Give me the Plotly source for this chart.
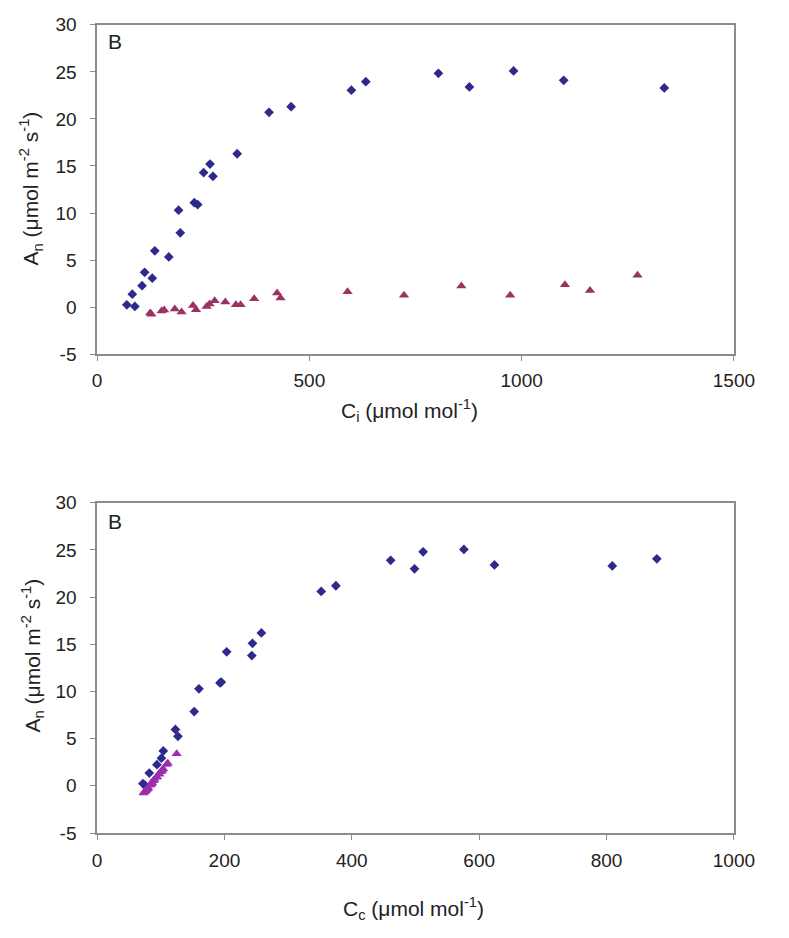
import plotly.graph_objects as go

# ---- Top panel: An vs Ci ----
ci_diamond = [70, 89, 83, 106, 112, 130, 136, 169, 192, 196, 229, 237, 251, 266, 273,
              330, 405, 457, 599, 633, 804, 877, 981, 1099, 1336]
an_diamond_top = [0.24, 0.07, 1.38, 2.28, 3.7, 3.08, 5.99, 5.33, 10.3, 7.9, 11.1, 10.9, 14.3,
                  15.2, 13.9, 16.3, 20.7, 21.3, 23.05, 23.96, 24.85, 23.4, 25.1, 24.1, 23.3]

ci_triangle = [125, 128, 152, 158, 183, 199, 226, 233, 258, 265, 277, 302, 327, 338, 370,
               424, 432, 590, 723, 858, 973, 1102, 1161, 1273]
an_triangle_top = [-0.62, -0.75, -0.42, -0.31, -0.21, -0.52, 0.17, -0.28, 0.07, 0.34, 0.69,
                   0.55, 0.24, 0.24, 0.9, 1.49, 0.97, 1.63, 1.25, 2.25, 1.25, 2.39, 1.77, 3.4]

# ---- Bottom panel: An vs Cc ----
cc_diamond = [72, 75, 82, 94, 101, 104, 123, 127, 152.5, 160, 193, 195, 203.5, 243, 244,
              258, 352, 375, 461, 498.5, 512, 576, 624, 809, 879]
an_diamond_bot = [0.24, 0.07, 1.35, 2.24, 2.93, 3.69, 5.97, 5.24, 7.87, 10.28, 10.9, 11.0,
                  14.2, 13.8, 15.1, 16.2, 20.6, 21.2, 23.9, 23.0, 24.8, 25.05, 23.4, 23.3, 24.05]

cc_triangle = [75, 73, 77.5, 79, 80, 76, 84.5, 79, 83, 86, 90, 88.5, 85, 85.5, 93,
               100, 94, 102, 97, 109, 97.5, 111, 104, 125]
an_triangle_bot = an_triangle_top

x_top_ticks = [0, 500, 1000, 1500]
x_bot_ticks = [0, 200, 400, 600, 800, 1000]
y_ticks = [-5, 0, 5, 10, 15, 20, 25, 30]
y_tick_labels = ["-5", "0", "5", "10", "15", "20", "25", "30"]

NAVY = "#2E2A8C"
MAROON = "#993366"
PURPLE = "#9B2FB0"
FONT = "Arial, Liberation Sans, sans-serif"

fig = go.Figure()
fig.add_trace(go.Scatter(x=ci_diamond, y=an_diamond_top, mode="markers",
                         marker=dict(symbol="diamond", size=7.5, color=NAVY),
                         xaxis="x", yaxis="y"))
fig.add_trace(go.Scatter(x=ci_triangle, y=an_triangle_top, mode="markers",
                         marker=dict(symbol="triangle-up", size=9, color=MAROON),
                         xaxis="x", yaxis="y"))
fig.add_trace(go.Scatter(x=cc_diamond, y=an_diamond_bot, mode="markers",
                         marker=dict(symbol="diamond", size=7.5, color=NAVY),
                         xaxis="x2", yaxis="y2"))
fig.add_trace(go.Scatter(x=cc_triangle, y=an_triangle_bot, mode="markers",
                         marker=dict(symbol="triangle-up", size=9, color=PURPLE),
                         xaxis="x2", yaxis="y2"))

# page body has an 8px margin on every side; size the figure so the page fits
# the window exactly and work in reference pixel coordinates
OFF = 8
W, H = 789 - 2 * OFF, 938 - 2 * OFF


def px(x):
    return (x - OFF) / W


def py(y):
    return 1 - (y - OFF) / H


xd = [px(95), px(754)]
ytop = [py(352), py(15)]
ybot = [py(842), py(504)]

axis_common = dict(showline=True, linecolor="#8c8c8c", linewidth=1.5, mirror=True,
                   showgrid=False, zeroline=False, ticks="outside", ticklen=5,
                   tickcolor="#8c8c8c", tickfont=dict(family=FONT, size=19, color="#222"))

fig.update_layout(
    width=W, height=H, margin=dict(l=0, r=0, t=0, b=0),
    paper_bgcolor="white", plot_bgcolor="white", showlegend=False,
    xaxis=dict(domain=xd, anchor="y", range=[0, 1500], tickvals=x_top_ticks,
               ticklabelstandoff=3, **axis_common),
    yaxis=dict(domain=ytop, anchor="x", range=[-5, 30], tickvals=y_ticks,
               ticktext=y_tick_labels, ticklabelstandoff=10, **axis_common),
    xaxis2=dict(domain=xd, anchor="y2", range=[0, 1000], tickvals=x_bot_ticks,
                ticklabelstandoff=4, **axis_common),
    yaxis2=dict(domain=ybot, anchor="x2", range=[-5, 30], tickvals=y_ticks,
                ticktext=y_tick_labels, ticklabelstandoff=10, **axis_common),
)

ytitle = "A<sub>n</sub> (μmol m<sup>-2</sup> s<sup>-1</sup>)"
tfont = dict(family=FONT, size=21, color="#222")
bfont = dict(family=FONT, size=21, color="#222")
ann = [
    dict(text="B", x=px(104), y=py(32), xref="paper", yref="paper",
         xanchor="left", yanchor="middle", showarrow=False, font=bfont),
    dict(text="B", x=px(104), y=py(523), xref="paper", yref="paper",
         xanchor="left", yanchor="middle", showarrow=False, font=bfont),
    dict(text=ytitle, x=px(26), y=py(182), xref="paper", yref="paper", textangle=-90,
         xanchor="center", yanchor="middle", showarrow=False, font=tfont),
    dict(text=ytitle, x=px(28), y=py(660), xref="paper", yref="paper", textangle=-90,
         xanchor="center", yanchor="middle", showarrow=False, font=tfont),
    dict(text="C<sub>i</sub> (μmol mol<sup>-1</sup>)", x=px(418), y=py(410),
         xref="paper", yref="paper", xanchor="center", yanchor="middle", showarrow=False, font=tfont),
    dict(text="C<sub>c</sub> (μmol mol<sup>-1</sup>)", x=px(422), y=py(919),
         xref="paper", yref="paper", xanchor="center", yanchor="middle", showarrow=False, font=tfont),
]
fig.update_layout(annotations=ann)

fig.write_html("out.html")
